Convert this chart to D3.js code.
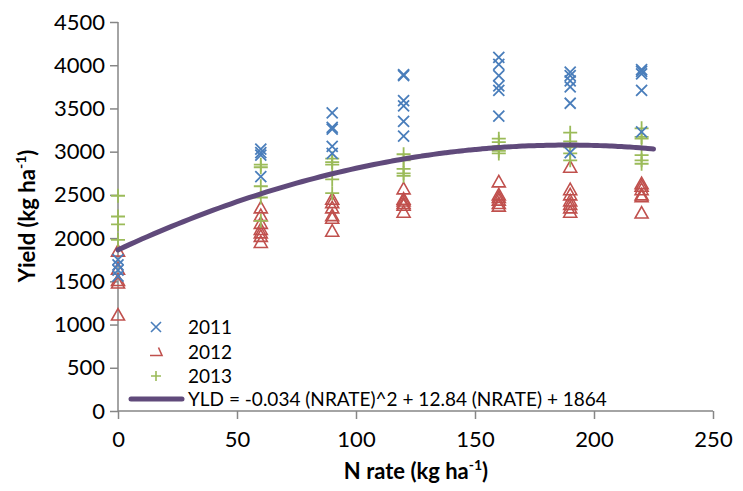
<!DOCTYPE html>
<html><head><meta charset="utf-8">
<script src="https://cdn.jsdelivr.net/npm/d3@7/dist/d3.min.js"></script>
<style>body{margin:0;background:#fff}svg{display:block;font-family:Lato,"Open Sans",sans-serif}</style>
</head><body><svg id="c" width="743" height="491"></svg>
<script>
const rates = [0, 60, 90, 120, 160, 190, 220];
const y2011 = [
  [1750, 1690, 1630, 1560],
  [3030, 2990, 2960, 2710],
  [3450, 3280, 3260, 3060, 2980],
  [3890, 3880, 3590, 3530, 3350, 3180],
  [4090, 4010, 3880, 3760, 3710, 3410],
  [3920, 3880, 3820, 3750, 3560, 2990],
  [3950, 3930, 3900, 3710, 3230]
];
const y2012 = [
  [1850, 1640, 1510, 1480, 1110],
  [2350, 2260, 2170, 2100, 2060, 2020, 1950],
  [2450, 2410, 2350, 2260, 2230, 2080],
  [2570, 2450, 2430, 2400, 2380, 2300],
  [2650, 2500, 2470, 2440, 2400, 2370],
  [2820, 2560, 2500, 2430, 2390, 2350, 2300],
  [2630, 2600, 2560, 2500, 2480, 2290]
];
const y2013 = [
  [2490, 2250, 2160, 1980],
  [2850, 2820, 2600, 2470, 2200],
  [2920, 2880, 2850, 2680, 2520],
  [2970, 2900, 2800, 2750, 2720],
  [3150, 3110, 3060, 3010, 2980],
  [3220, 3120, 3050, 2980, 2900],
  [3270, 3170, 3150, 2960, 2900, 2860]
];
const fitCoef = [-0.034, 12.84, 1864]; // YLD = a*N^2 + b*N + c
const fitRange = [0, 225];
const xTicks = [0, 50, 100, 150, 200, 250];
const yTicks = [0, 500, 1000, 1500, 2000, 2500, 3000, 3500, 4000, 4500];
const seriesNames = ["2011", "2012", "2013"];
const fitLabel = "YLD = -0.034 (NRATE)^2 + 12.84 (NRATE) + 1864";

const svg = d3.select("#c");
const x = d3.scaleLinear().domain([0, 250]).range([118, 713]);
const y = d3.scaleLinear().domain([0, 4500]).range([411, 22]);
const axisColor = "#868686";

const xa = svg.append("g").attr("transform", "translate(0,411)")
  .call(d3.axisBottom(x).tickValues(xTicks).tickFormat(d3.format("d")).tickSize(8).tickPadding(12).tickSizeOuter(0));
const ya = svg.append("g").attr("transform", "translate(118,0)")
  .call(d3.axisLeft(y).tickValues(yTicks).tickFormat(d3.format("d")).tickSize(8).tickPadding(5).tickSizeOuter(0));
[xa, ya].forEach(a => {
  a.select(".domain").attr("stroke", axisColor).attr("stroke-width", 1.5);
  a.selectAll(".tick line").attr("stroke", axisColor).attr("stroke-width", 1.5);
  a.selectAll(".tick text").attr("fill", "#000").style("font-size", "22px").style("font-family", "Lato");
});
xa.select(".domain").attr("d", "M118,0H713");
ya.select(".domain").attr("d", "M0,411V22");

function pts(arr) {
  const out = [];
  arr.forEach((vals, i) => vals.forEach(v => out.push([rates[i], v])));
  return out;
}
const blue = "#4A7EBB", red = "#C0504D", green = "#9BBB59", purple = "#604A7B";

// 2012 triangles
svg.append("g").selectAll("path").data(pts(y2012)).join("path")
  .attr("d", "M0,-6.5L6.5,5L-6.5,5Z")
  .attr("transform", d => `translate(${x(d[0])},${y(d[1])})`)
  .attr("fill", "none").attr("stroke", red).attr("stroke-width", 1.6);
// 2013 plus
svg.append("g").selectAll("path").data(pts(y2013)).join("path")
  .attr("d", "M-7,0H7M0,-7V7")
  .attr("transform", d => `translate(${x(d[0])},${y(d[1])})`)
  .attr("stroke", green).attr("stroke-width", 1.8);
// 2011 x
svg.append("g").selectAll("path").data(pts(y2011)).join("path")
  .attr("d", "M-5.5,-5.5L5.5,5.5M-5.5,5.5L5.5,-5.5")
  .attr("transform", d => `translate(${x(d[0])},${y(d[1])})`)
  .attr("stroke", blue).attr("stroke-width", 1.8);

// fitted curve
const fx = d3.range(fitRange[0], fitRange[1] + 0.001, 2.5);
const line = d3.line().x(d => x(d)).y(d => y(fitCoef[0] * d * d + fitCoef[1] * d + fitCoef[2])).curve(d3.curveMonotoneX);
svg.append("path").datum(fx).attr("d", line)
  .attr("fill", "none").attr("stroke", purple).attr("stroke-width", 5).attr("stroke-linecap", "round");

// legend
const lg = svg.append("g");
const ly = [327, 352, 376, 399];
lg.append("path").attr("d", "M-5,-5L5,5M-5,5L5,-5").attr("transform", `translate(156,${ly[0]})`).attr("stroke", blue).attr("stroke-width", 1.6);
lg.append("path").attr("d", "M2.5,-4.5L6,3.5H-6").attr("transform", `translate(156,${ly[1]})`).attr("stroke", red).attr("stroke-width", 1.6).attr("fill", "none");
lg.append("path").attr("d", "M-5,0H5M0,-5V5").attr("transform", `translate(156,${ly[2]})`).attr("stroke", green).attr("stroke-width", 1.6);
lg.append("line").attr("x1", 131).attr("x2", 182).attr("y1", ly[3]).attr("y2", ly[3]).attr("stroke", purple).attr("stroke-width", 5).attr("stroke-linecap", "round");
seriesNames.forEach((n, i) => lg.append("text").attr("x", 188).attr("y", ly[i]).attr("dy", "0.35em").style("font-size", "19px").text(n));
lg.append("text").attr("x", 188).attr("y", ly[3]).attr("dy", "0.35em").style("font-size", "19px").text(fitLabel);

// axis titles
const xt = svg.append("text").attr("x", 416).attr("y", 479).attr("text-anchor", "middle").style("font-size", "22px").style("font-weight", "bold");
xt.append("tspan").text("N rate (kg ha");
xt.append("tspan").attr("dy", -9).style("font-size", "14px").text("-1");
xt.append("tspan").attr("dy", 9).text(")");
const yt = svg.append("text").attr("transform", "translate(35,216) rotate(-90)").attr("text-anchor", "middle").style("font-size", "22px").style("font-weight", "bold");
yt.append("tspan").text("Yield (kg ha");
yt.append("tspan").attr("dy", -9).style("font-size", "14px").text("-1");
yt.append("tspan").attr("dy", 9).text(")");
</script></body></html>
